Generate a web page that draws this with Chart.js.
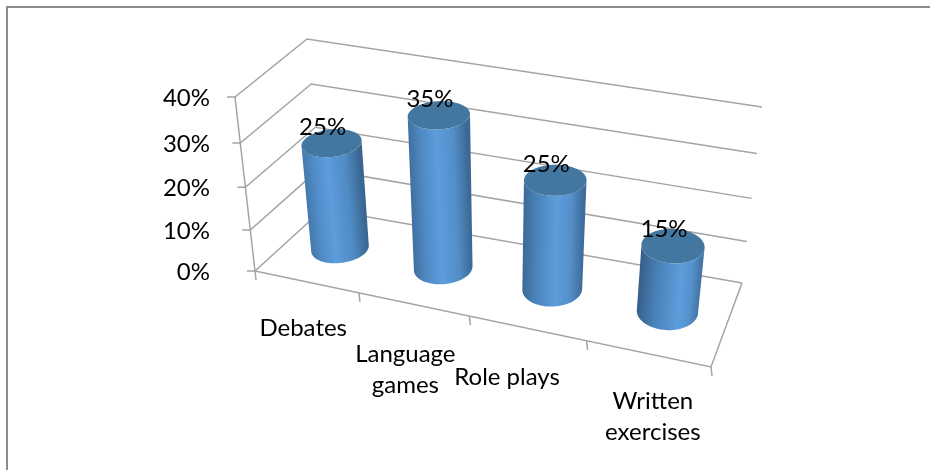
<!DOCTYPE html>
<html>
<head>
<meta charset="utf-8">
<style>
  html, body { margin: 0; padding: 0; background: #fff; }
  canvas { display: block; }
</style>
<script src="https://cdn.jsdelivr.net/npm/chart.js@4"></script>
</head>
<body>
<canvas id="chart" width="930" height="470"></canvas>
<script>
const categories = ['Debates', ['Language', 'games'], 'Role plays', ['Written', 'exercises']];
const seriesValues = [25, 35, 25, 15];
const tickLabels = ['0%', '10%', '20%', '30%', '40%'];

// corners of the 3D box on the page: front-left, front-right, back-right, back-left
const floorCorners = [[255, 271], [711, 367], [742, 283], [323, 209]];
const topCorners = [[235, 97], [734, 172], [762, 107], [307, 39]];
const perspective = 1.08;   // ticks get a bit wider towards the top
const floorBend = 0.07;     // evens out the front edge ticks
const topBend = -0.11;
const depthCentre = 0.5;
const depthRadius = 0.22;

const fontName = 'Lato, "Open Sans", sans-serif';
const gridColor = '#a4a4a4';
const capColor = '#44779f';

function makeHomography(q) {
    const [x0, y0] = q[0], [x1, y1] = q[1], [x2, y2] = q[2], [x3, y3] = q[3];
    const dx1 = x1 - x2, dx2 = x3 - x2, dx3 = x0 - x1 + x2 - x3;
    const dy1 = y1 - y2, dy2 = y3 - y2, dy3 = y0 - y1 + y2 - y3;
    const den = dx1 * dy2 - dx2 * dy1;
    const g = (dx3 * dy2 - dx2 * dy3) / den;
    const h = (dx1 * dy3 - dx3 * dy1) / den;
    const a = x1 - x0 + g * x1, b = x3 - x0 + h * x3;
    const d = y1 - y0 + g * y1, e = y3 - y0 + h * y3;
    return (u, v) => {
        const w = g * u + h * v + 1;
        return [(a * u + b * v + x0) / w, (d * u + e * v + y0) / w];
    };
}

const floorMap = makeHomography(floorCorners);
const topMap = makeHomography(topCorners);

// u: along the categories, d: depth, v: height (all 0..1)
function project(u, d, v) {
    const f = floorMap(u + floorBend * u * (1 - u), d);
    const t = topMap(u + topBend * u * (1 - u), d);
    const k = v / (v + (1 - v) * perspective);
    return [f[0] + (t[0] - f[0]) * k, f[1] + (t[1] - f[1]) * k];
}

function line(ctx, points) {
    ctx.beginPath();
    points.forEach((p, i) => i ? ctx.lineTo(p[0], p[1]) : ctx.moveTo(p[0], p[1]));
    ctx.stroke();
}

function drawCylinder(ctx, uc, ru, v, shade) {
    const at = (a, h) => project(uc + ru * Math.cos(a), depthCentre + depthRadius * Math.sin(a), h);
    const n = 120;
    // angles of the left and right outline of a ring
    const outline = (h) => {
        let l = 0, r = 0, lx = Infinity, rx = -Infinity;
        for (let i = 0; i < n; i++) {
            const a = i / n * Math.PI * 2;
            const x = at(a, h)[0];
            if (x < lx) { lx = x; l = a; }
            if (x > rx) { rx = x; r = a; }
        }
        return [l, r > l ? r : r + Math.PI * 2];
    };
    const [tl, tr] = outline(v);
    const [bl, br] = outline(0);

    ctx.beginPath();
    for (let i = 0; i <= 40; i++) {
        const p = at(tl + (tr - tl) * i / 40, v);
        i ? ctx.lineTo(p[0], p[1]) : ctx.moveTo(p[0], p[1]);
    }
    for (let i = 40; i >= 0; i--) {
        const p = at(bl + (br - bl) * i / 40, 0);
        ctx.lineTo(p[0], p[1]);
    }
    ctx.closePath();

    // shear the gradient so the shading follows the lean of the cylinder
    const top = at(tl, v), bottom = at(bl, 0), bottomR = at(br, 0);
    const s = (top[0] - bottom[0]) / (top[1] - bottom[1]);
    const g = ctx.createLinearGradient(bottom[0], 0, bottomR[0], 0);
    g.addColorStop(0, shade.left);
    g.addColorStop(shade.peak * 0.45, shade.leftMid);
    g.addColorStop(shade.peak, '#5c9ddc');
    g.addColorStop(shade.peak + (1 - shade.peak) * 0.55, shade.rightMid);
    g.addColorStop(1, shade.right);
    ctx.save();
    ctx.transform(1, 0, s, 1, -s * bottom[1], 0);
    ctx.fillStyle = g;
    ctx.fill();
    ctx.restore();

    ctx.fillStyle = capColor;
    ctx.beginPath();
    for (let i = 0; i < n; i++) {
        const p = at(i / n * Math.PI * 2, v);
        i ? ctx.lineTo(p[0], p[1]) : ctx.moveTo(p[0], p[1]);
    }
    ctx.closePath();
    ctx.fill();
}

const cylinderShades = [
    { peak: 0.42, left: '#4478ad', leftMid: '#518dc8', rightMid: '#4f8ac3', right: '#39658f' },
    { peak: 0.48, left: '#406f9f', leftMid: '#4f8ac4', rightMid: '#528ec8', right: '#3b6894' },
    { peak: 0.55, left: '#3c6a97', leftMid: '#4c85bd', rightMid: '#548fc9', right: '#3e6c9b' },
    { peak: 0.68, left: '#375f88', leftMid: '#4a82ba', rightMid: '#5592cd', right: '#4474a5' }
];

const box3d = {
    id: 'box3d',
    beforeDatasetsDraw(chart) {
        const ctx = chart.ctx;
        const yScale = chart.scales.y, area = chart.chartArea;
        const toV = (px) => (area.bottom - px) / (area.bottom - area.top);

        ctx.save();
        // outer frame of the picture
        ctx.strokeStyle = '#8c8c8c';
        ctx.lineWidth = 2;
        line(ctx, [[7, 470], [7, 7], [930, 7]]);

        ctx.strokeStyle = gridColor;
        ctx.lineWidth = 1.5;
        yScale.ticks.forEach(t => {
            const v = toV(yScale.getPixelForValue(t.value));
            const a = project(0, 0, v);
            line(ctx, [[a[0] - 8, a[1]], a, project(0, 1, v), project(1, 1, v)]);
        });
        line(ctx, [project(0, 0, 0), project(0, 0, 1)]);
        line(ctx, [project(0, 0, 0), project(1, 0, 0), project(1, 1, 0)]);

        // category ticks on the front edge
        for (let i = 0; i <= categories.length; i++) {
            const p = project(i / categories.length, 0, 0);
            line(ctx, [p, [p[0] + 1, p[1] + 9]]);
        }
        ctx.restore();
    },
    afterDatasetsDraw(chart) {
        const ctx = chart.ctx;
        const yScale = chart.scales.y, area = chart.chartArea;
        const w = area.right - area.left, h = area.bottom - area.top;
        const meta = chart.getDatasetMeta(0);

        ctx.save();
        meta.data.forEach((bar, i) => {
            const uc = (bar.x - area.left) / w;
            const v = (area.bottom - bar.y) / h;
            drawCylinder(ctx, uc, bar.width / 2 / w, v, cylinderShades[i]);
        });

        ctx.fillStyle = '#000';
        ctx.font = '24px ' + fontName;
        ctx.textBaseline = 'middle';

        // value labels, sitting on the back of each cap
        ctx.textAlign = 'center';
        meta.data.forEach((bar, i) => {
            const uc = (bar.x - area.left) / w;
            const v = (area.bottom - bar.y) / h;
            const p = project(uc, depthCentre, v);
            ctx.fillText(seriesValues[i] + '%', p[0] - 9, p[1] - 16);
        });

        // value axis
        ctx.textAlign = 'right';
        yScale.ticks.forEach(t => {
            const v = (area.bottom - yScale.getPixelForValue(t.value)) / h;
            const p = project(0, 0, v);
            ctx.fillText(t.label, 210, p[1] + 1);
        });

        // category axis
        const shiftX = [-3, -8, -20, 5];
        const shiftY = [46, 50, 49, 48];
        ctx.textAlign = 'center';
        categories.forEach((c, i) => {
            const p = project((i + 0.5) / categories.length, 0, 0);
            [].concat(c).forEach((txt, k) => {
                ctx.fillText(txt, p[0] + shiftX[i], p[1] + shiftY[i] + k * 31);
            });
        });
        ctx.restore();
    }
};

new Chart(document.getElementById('chart'), {
    type: 'bar',
    data: {
        labels: categories,
        datasets: [{
            data: seriesValues,
            backgroundColor: 'transparent',
            barPercentage: 0.5,
            categoryPercentage: 1
        }]
    },
    options: {
        responsive: false,
        animation: false,
        layout: { padding: { left: 255, right: 219, top: 97, bottom: 199 } },
        plugins: { legend: { display: false }, tooltip: { enabled: false } },
        scales: {
            x: { display: false },
            y: {
                display: false,
                min: 0,
                max: 40,
                ticks: { stepSize: 10, callback: (v, i) => tickLabels[i] }
            }
        }
    },
    plugins: [box3d]
});
</script>
</body>
</html>
